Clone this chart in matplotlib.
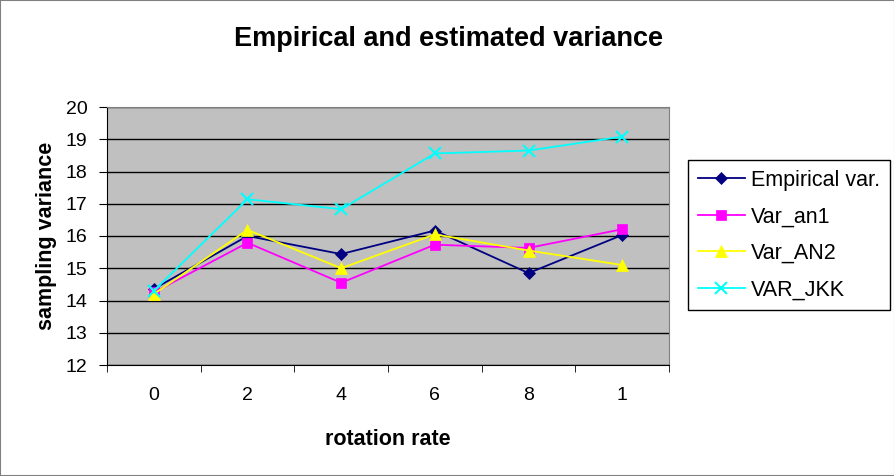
import numpy as np
import matplotlib
matplotlib.use("Agg")
import matplotlib.pyplot as plt
from matplotlib.patches import Rectangle

plt.rcParams['font.family'] = ['Liberation Sans', 'DejaVu Sans']

categories = ["0", "2", "4", "6", "8", "1"]
empirical = [14.36, 16.0, 15.44, 16.17, 14.85, 16.03]
var_an1 = [14.25, 15.79, 14.55, 15.73, 15.63, 16.21]
var_an2 = [14.2, 16.19, 15.0, 16.05, 15.55, 15.1]
var_jkk = [14.3, 17.14, 16.83, 18.56, 18.65, 19.08]
y_ticks = [12, 13, 14, 15, 16, 17, 18, 19, 20]

series = [
    ("Empirical var.", empirical, "#000080", "D", 6.5),
    ("Var_an1", var_an1, "#FF00FF", "s", 7),
    ("Var_AN2", var_an2, "#FFFF00", "^", 8.5),
    ("VAR_JKK", var_jkk, "#00FFFF", "x", 9),
]

fig = plt.figure(figsize=(8.95, 4.76), dpi=100)
fig.patches.append(Rectangle((0, 0), 1, 1, transform=fig.transFigure,
                             fill=False, edgecolor="#808080", lw=1.5))
ax = fig.add_axes([107 / 895, 1 - 365 / 476, 562 / 895, 258 / 476])
ax.set_facecolor("#C0C0C0")

x = np.arange(len(categories))
for name, vals, col, mk, ms in series:
    ax.plot(x, vals, color=col, marker=mk, markersize=ms, lw=1.3,
            markeredgewidth=1.5 if mk == "x" else 0.5, markeredgecolor=col,
            label=name, zorder=3)

ax.set_ylim(12, 20)
ax.set_yticks(y_ticks)
ax.set_xlim(-0.5, len(categories) - 0.5)
ax.set_xticks(x)
ax.set_xticklabels(categories)
ax.set_xticks(np.arange(-0.5, len(categories)), minor=True)
ax.tick_params(axis="x", which="major", length=0, pad=16, labelsize=14)
ax.tick_params(axis="x", which="minor", length=5, color="black")
ax.tick_params(axis="y", length=6, labelsize=14, pad=8)
ax.yaxis.grid(True, color="black", lw=1)
ax.set_axisbelow(True)
for s in ["top", "right"]:
    ax.spines[s].set_color("#808080")
for s in ["left", "bottom"]:
    ax.spines[s].set_color("black")

ax.set_xlabel("rotation rate", fontsize=15.5, fontweight="bold", labelpad=18)
ax.set_ylabel("sampling variance", fontsize=15.5, fontweight="bold", labelpad=6)
fig.text(449 / 895, 1 - 39 / 476, "Empirical and estimated variance",
         ha="center", va="center", fontsize=19.5, fontweight="bold")

leg = ax.legend(loc="center left", bbox_to_anchor=(688 / 895, 1 - 235 / 476),
                bbox_transform=fig.transFigure, fontsize=15.5, frameon=True,
                fancybox=False, edgecolor="black", framealpha=1,
                handlelength=2.2, handletextpad=0.28, borderpad=0.45,
                labelspacing=0.72, borderaxespad=0)
leg.get_frame().set_linewidth(1)

fig.savefig("out.png", dpi=100)
